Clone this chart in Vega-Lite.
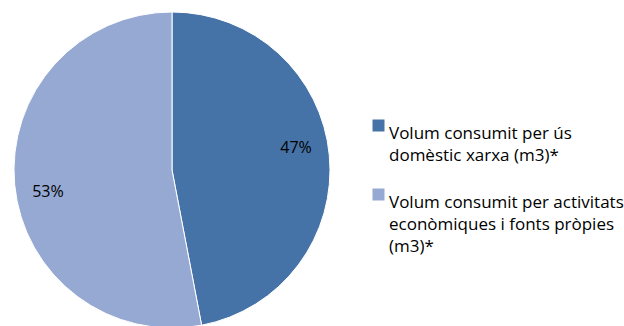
{
  "$schema": "https://vega.github.io/schema/vega-lite/v6.json",
  "width": 344,
  "height": 340,
  "padding": 0,
  "autosize": {"type": "pad"},
  "background": "white",
  "config": {"view": {"stroke": null}, "font": "Open Sans", "style": {"guide-label": {"lineHeight": 22}}},
  "data": {"values": [
    {"cat": "Volum consumit per ús domèstic xarxa (m3)*", "value": 47, "label": "47%", "order": 1},
    {"cat": "Volum consumit per activitats econòmiques i fonts pròpies (m3)*", "value": 53, "label": "53%", "order": 2}
  ]},
  "encoding": {
    "theta": {"field": "value", "type": "quantitative", "stack": true},
    "order": {"field": "order", "type": "quantitative"},
    "color": {
      "field": "cat", "type": "nominal",
      "sort": ["Volum consumit per ús domèstic xarxa (m3)*", "Volum consumit per activitats econòmiques i fonts pròpies (m3)*"],
      "scale": {"domain": ["Volum consumit per ús domèstic xarxa (m3)*", "Volum consumit per activitats econòmiques i fonts pròpies (m3)*"], "range": ["#4673A7", "#95A9D2"]},
      "legend": {
        "orient": "none", "legendX": 370, "legendY": 117, "title": null,
        "symbolType": "square", "symbolSize": 144, "symbolStrokeWidth": 0,
        "labelFontSize": 17, "labelFont": "Open Sans", "labelColor": "#000000",
        "labelLimit": 300, "labelBaseline": "top", "labelOffset": 2,
        "rowPadding": 22,
        "labelExpr": "datum.label == 'Volum consumit per ús domèstic xarxa (m3)*' ? ['Volum consumit per ús', 'domèstic xarxa (m3)*'] : ['Volum consumit per activitats', 'econòmiques i fonts pròpies', '(m3)*']"
      }
    }
  },
  "layer": [
    {"mark": {"type": "arc", "outerRadius": 158, "stroke": "white", "strokeWidth": 1}},
    {"mark": {"type": "text", "radius": 126, "thetaOffset": -0.08, "fontSize": 16, "font": "Open Sans", "color": "#000000"},
     "encoding": {"text": {"field": "label"}, "color": {"value": "#000000"}}}
  ]
}
